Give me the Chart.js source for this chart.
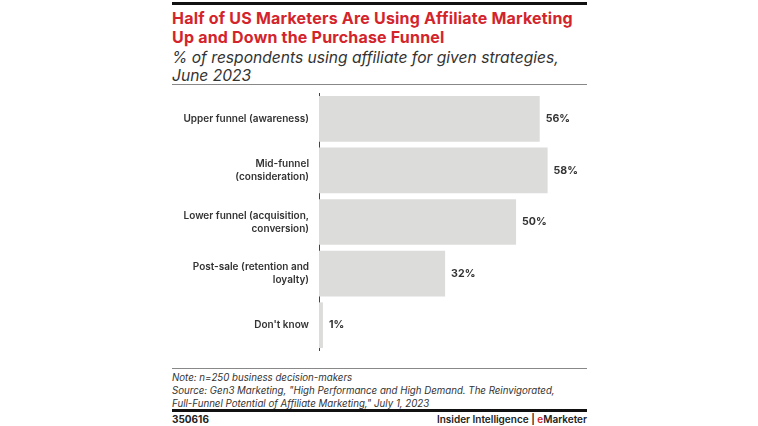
<!DOCTYPE html>
<html>
<head>
<meta charset="utf-8">
<script src="https://cdn.jsdelivr.net/npm/chart.js@4"></script>
<style>
  html, body { margin: 0; padding: 0; background: #fff; width: 758px; height: 426px; overflow: hidden; }
  body { position: relative; font-family: Inter, "Noto Sans", sans-serif; color: #222; }
  .rule-top { position: absolute; left: 172px; top: 2px; width: 415px; height: 3px; background: #111; }
  .title { position: absolute; left: 172px; top: 9px; width: 440px; color: #d3242b; font-weight: 700; font-size: 16px; line-height: 19px; letter-spacing: 0.2px; white-space: nowrap; }
  .subtitle { position: absolute; left: 172px; top: 49px; width: 440px; color: #333; font-style: italic; font-size: 15.6px; line-height: 17.5px; white-space: nowrap; }
  .rule-mid { position: absolute; left: 172px; top: 84px; width: 415px; height: 1px; background: #888; }
  .rule-note { position: absolute; left: 172px; top: 368px; width: 415px; height: 1px; background: #888; }
  .notes { position: absolute; left: 172px; top: 372px; width: 430px; font-style: italic; font-size: 9.7px; line-height: 12.8px; color: #333; white-space: nowrap; }
  .rule-bot { position: absolute; left: 172px; top: 409px; width: 415px; height: 3px; background: #111; }
  .foot-l { position: absolute; left: 172px; top: 413px; font-weight: 700; font-size: 10px; color: #222; }
  .foot-r { position: absolute; right: 171px; top: 413px; font-weight: 600; font-size: 10px; color: #222; }
  .foot-r .e { color: #d3242b; }
  #wrap { position: absolute; left: 172px; top: 93px; width: 415px; height: 258px; }
</style>
</head>
<body>
<div class="rule-top"></div>
<div class="title">Half of US Marketers Are Using Affiliate Marketing<br>Up and Down the Purchase Funnel</div>
<div class="subtitle">% of respondents using affiliate for given strategies,<br>June 2023</div>
<div class="rule-mid"></div>
<div id="wrap"><canvas id="c" width="415" height="258"></canvas></div>
<div class="rule-note"></div>
<div class="notes">Note: n=250 business decision-makers<br>Source: Gen3 Marketing, "High Performance and High Demand. The Reinvigorated,<br>Full-Funnel Potential of Affiliate Marketing," July 1, 2023</div>
<div class="rule-bot"></div>
<div class="foot-l">350616</div>
<div class="foot-r">Insider Intelligence | <span class="e">e</span>Marketer</div>
<script>
const categories = [
  ["Upper funnel (awareness)"],
  ["Mid-funnel", "(consideration)"],
  ["Lower funnel (acquisition,", "conversion)"],
  ["Post-sale (retention and", "loyalty)"],
  ["Don't know"]
];
const values = [56, 58, 50, 32, 1];
const valueLabels = ["56%", "58%", "50%", "32%", "1%"];

const valuePlugin = {
  id: 'valueLabels',
  afterDatasetsDraw(chart) {
    const ctx = chart.ctx;
    const meta = chart.getDatasetMeta(0);
    ctx.save();
    ctx.font = '700 10.6px Inter, "Noto Sans", sans-serif';
    ctx.fillStyle = '#333';
    ctx.textBaseline = 'middle';
    ctx.textAlign = 'left';
    meta.data.forEach((bar, i) => {
      ctx.fillText(valueLabels[i], bar.x + 6, bar.y);
    });
    ctx.restore();
  }
};

new Chart(document.getElementById('c'), {
  type: 'bar',
  data: {
    labels: categories,
    datasets: [{
      data: values,
      backgroundColor: '#dcdcdb',
      borderWidth: 0,
      barPercentage: 0.885,
      categoryPercentage: 1.0
    }]
  },
  options: {
    indexAxis: 'y',
    responsive: false,
    maintainAspectRatio: false,
    animation: false,
    layout: { padding: 0 },
    plugins: { legend: { display: false }, tooltip: { enabled: false } },
    scales: {
      x: {
        display: false,
        min: 0,
        max: 68
      },
      y: {
        grid: { display: false, drawTicks: false },
        border: { display: true, color: '#444', width: 1 },
        ticks: {
          color: '#333',
          font: { family: 'Inter, "Noto Sans", sans-serif', size: 10, weight: '600', lineHeight: 1.3 },
          padding: 10,
          crossAlign: 'near'
        },
        afterFit(scale) {
          scale.width = 147;
          scale.paddingTop = 0;
          scale.paddingBottom = 0;
        }
      }
    }
  },
  plugins: [valuePlugin]
});
</script>
</body>
</html>
